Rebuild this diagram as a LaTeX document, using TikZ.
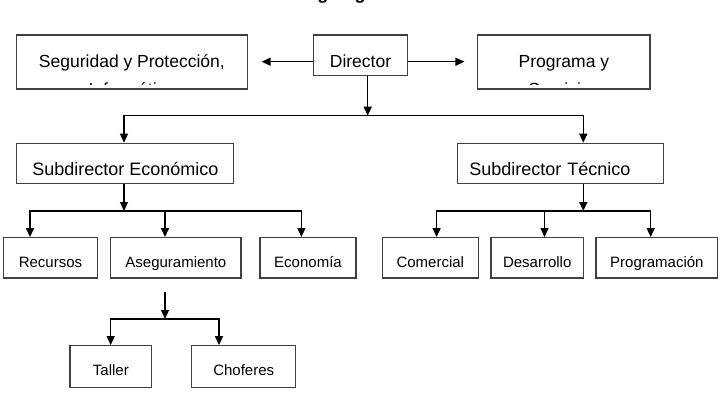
\documentclass[tikz,border=0pt]{standalone}
\usepackage{fontspec}
\setmainfont{Liberation Sans}
\usetikzlibrary{arrows.meta}

\begin{document}
\begin{tikzpicture}[x=1pt, y=-1pt, line width=1.4pt, >={Triangle[length=9pt, width=8pt]},
    box/.style={draw=black!75, line width=1.2pt, fill=white, inner sep=0pt},
    toptext/.style={font=\fontsize{17.5}{20}\selectfont},
    topbox/.style={box, toptext, text height=23.5pt, text depth=0pt},
    subbox/.style={box, font=\fontsize{18}{21}\selectfont, minimum height=40pt, text height=23.9pt, text depth=0pt},
    unitbox/.style={box, font=\fontsize{15}{18}\selectfont, minimum height=40.3pt, text height=18.7pt, text depth=0pt},
    leafbox/.style={box, font=\fontsize{15}{18}\selectfont, minimum height=41.6pt, text height=17.7pt, text depth=0pt}]
        \useasboundingbox (0,0) rectangle (722,402);

        % Title, cut by the top edge
        \begin{scope}
            \clip (0,0) rectangle (722,402);
            \node[anchor=base, font=\fontsize{18}{20}\selectfont\bfseries] (title) at (352.5,-1) {Organigrama};
        \end{scope}

        % Top row
        \node[topbox, minimum width=94.4pt, minimum height=40.7pt] (dir) at (360.5,55.3) {Director};
        \node[box, minimum width=230.5pt, minimum height=54pt] (seg) at (131.9,62) {};
        \node[box, minimum width=172.7pt, minimum height=54pt] (prog) at (563.7,62) {};
        \node[toptext, anchor=base] (segtext) at (131.9,67) {Seguridad y Protección,};
        \node[toptext, anchor=base] (progtext) at (563.9,67) {Programa y};
        \begin{scope}
            \clip (seg.north west) rectangle ([yshift=5pt]seg.south east);
            \node[toptext, anchor=base] (seginf) at (131.9,95.5) {Informática};
        \end{scope}
        \begin{scope}
            \clip (prog.north west) rectangle ([yshift=5pt]prog.south east);
            \node[toptext, anchor=base] (progserv) at (563.9,95.5) {Servicios};
        \end{scope}

        % Subdirectors
        \node[subbox, minimum width=217pt] (sube) at (125.3,163.3) {Subdirector Económico};
        \node[subbox, text width=182pt, inner xsep=12pt, align=left] (subt) at (560.3,163.3) {Subdirector Técnico};

        % Units
        \node[unitbox, minimum width=94.4pt] (rec) at (50.5,257.8) {Recursos};
        \node[unitbox, minimum width=130.3pt] (ase) at (175.9,257.8) {Aseguramiento};
        \node[unitbox, minimum width=96pt] (eco) at (308,257.8) {Economía};
        \node[unitbox, minimum width=95.8pt] (com) at (430.3,257.8) {Comercial};
        \node[unitbox, minimum width=92.3pt] (des) at (537.2,257.8) {Desarrollo};
        \node[unitbox, minimum width=121.7pt] (prg) at (656.9,257.8) {Programación};

        \node[leafbox, minimum width=81.7pt] (tal) at (110.9,366.5) {Taller};
        \node[leafbox, minimum width=104pt] (cho) at (243.7,366.5) {Choferes};

        % Junctions
        \coordinate (segtip) at (261.6,61.7);
        \coordinate (progtip) at (464.4,61.7);
        \coordinate (b0) at (367.7,115.7);
        \coordinate (b0l) at (124,115.7);
        \coordinate (b0r) at (583.3,115.7);
        \coordinate (b1) at (124,211);
        \coordinate (b1a) at (30,211);
        \coordinate (b1b) at (165,211);
        \coordinate (b1c) at (301.4,211);
        \coordinate (b2) at (583.3,211);
        \coordinate (b2a) at (436.6,211);
        \coordinate (b2b) at (544.5,211);
        \coordinate (b2c) at (650.7,211);
        \coordinate (b3top) at (165,291.7);
        \coordinate (b3) at (165,319);
        \coordinate (b3a) at (110.7,319);
        \coordinate (b3b) at (219,319);

        % Connectors
        \draw[->] (dir.west |- segtip) -- (segtip);
        \draw[->] (dir.east |- progtip) -- (progtip);
        \draw[->] (b0 |- dir.south) -- (b0);
        \draw[<->] (b0l |- sube.north) -- (b0l) -- (b0r) -- (b0r |- subt.north);

        \draw[->] (b1 |- sube.south) -- (b1);
        \draw[<->] (b1a |- rec.north) -- (b1a) -- (b1c) -- (b1c |- eco.north);
        \draw[->] (b1b) -- (b1b |- ase.north);

        \draw[->] (b2 |- subt.south) -- (b2);
        \draw[<->] (b2a |- com.north) -- (b2a) -- (b2c) -- (b2c |- prg.north);
        \draw[->] (b2b) -- (b2b |- des.north);

        \draw[->] (b3top) -- (b3);
        \draw[<->] (b3a |- tal.north) -- (b3a) -- (b3b) -- (b3b |- cho.north);
    \end{tikzpicture}
\end{document}
